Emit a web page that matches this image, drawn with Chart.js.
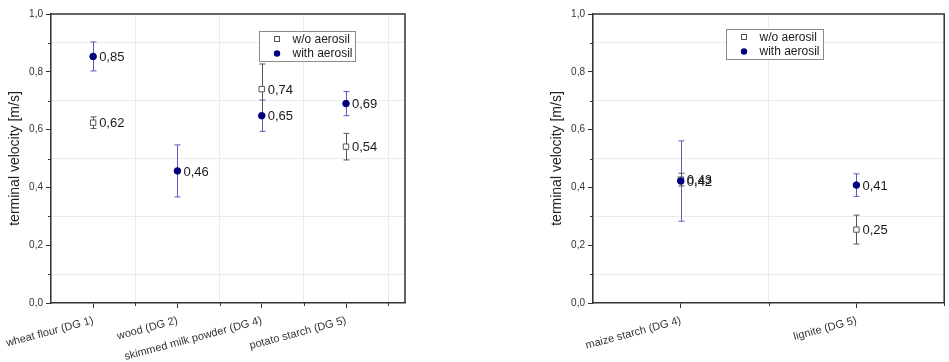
<!DOCTYPE html>
<html lang="en">
  <head>
    <meta charset="utf-8" />
    <title>terminal velocity</title>
    <style>
      * {
        margin: 0;
        padding: 0;
      }
      body {
        width: 949px;
        height: 362px;
        background: white;
        position: relative;
        overflow: hidden;
      }
      canvas {
        position: absolute;
        top: 0;
      }
      #leftChart {
        left: 0;
      }
      #rightChart {
        left: 542px;
      }
    </style>
  </head>
  <body>
    <canvas id="leftChart" width="470" height="362"></canvas>
    <canvas id="rightChart" width="407" height="362"></canvas>

    <script src="https://cdn.jsdelivr.net/npm/chart.js@4.4.1/dist/chart.umd.min.js"></script>

    <script>
      // data
      const leftCategories = ["wheat flour (DG 1)", "wood (DG 2)", "skimmed milk powder (DG 4)", "potato starch (DG 5)"];
      const leftWithout = [0.624, null, 0.74, 0.541];
      const leftWithoutErr = [0.02, null, 0.087, 0.046];
      const leftWith = [0.853, 0.457, 0.648, 0.69];
      const leftWithErr = [0.05, 0.09, 0.054, 0.042];

      const rightCategories = ["maize starch (DG 4)", "lignite (DG 5)"];
      const rightWithout = [0.427, 0.254];
      const rightWithoutErr = [0.022, 0.05];
      const rightWith = [0.422, 0.408];
      const rightWithErr = [0.139, 0.039];

      const seriesNames = ["w/o aerosil", "with aerosil"];
      const yTitle = "terminal velocity [m/s]";

      const FONT = "'Liberation Sans', Arial, sans-serif";
      const navy = "#00007f";
      const errBlue = "#5a5abd";
      const errGrey = "#555555";

      const fmt = (v) => v.toFixed(2).replace(".", ",");
      const isInt = (v) => Math.abs(v - Math.round(v)) < 1e-6;

      // error bars, labels, frame, minor ticks, legend
      const decor = {
        id: "decor",
        beforeDatasetsDraw(chart) {
          const { ctx, scales: { x, y } } = chart;
          ctx.save();
          ctx.lineWidth = 1;
          chart.data.datasets.forEach((ds) => {
            ctx.strokeStyle = ds.errColor;
            ds.data.forEach((p, i) => {
              if (p.y == null) return;
              const e = ds.errors[i];
              const px = Math.round(x.getPixelForValue(p.x)) + 0.5;
              const top = y.getPixelForValue(p.y + e);
              const bot = y.getPixelForValue(p.y - e);
              ctx.beginPath();
              ctx.moveTo(px, top);
              ctx.lineTo(px, bot);
              ctx.moveTo(px - 3, top);
              ctx.lineTo(px + 3, top);
              ctx.moveTo(px - 3, bot);
              ctx.lineTo(px + 3, bot);
              ctx.stroke();
            });
          });
          ctx.restore();
        },
        afterDatasetsDraw(chart) {
          const { ctx, scales: { x, y } } = chart;
          ctx.save();
          ctx.font = "13px " + FONT;
          ctx.fillStyle = "#1a1a1a";
          ctx.textAlign = "left";
          ctx.textBaseline = "middle";
          chart.data.datasets.forEach((ds) => {
            ds.data.forEach((p) => {
              if (p.y == null) return;
              ctx.fillText(fmt(p.y), x.getPixelForValue(p.x) + 6, y.getPixelForValue(p.y) + 1);
            });
          });
          ctx.restore();
        },
        afterDraw(chart, args, opts) {
          const { ctx, chartArea: { left, right, top, bottom }, scales: { x, y } } = chart;
          ctx.save();

          // frame top / right
          ctx.strokeStyle = "#333";
          ctx.lineWidth = 1.5;
          ctx.beginPath();
          ctx.moveTo(left, top);
          ctx.lineTo(right, top);
          ctx.lineTo(right, bottom);
          ctx.stroke();

          // minor ticks
          ctx.lineWidth = 1;
          ctx.beginPath();
          y.ticks.forEach((t) => {
            if (Math.round(t.value * 10) % 2 === 1) {
              const py = Math.round(y.getPixelForValue(t.value)) + 0.5;
              ctx.moveTo(left - 3, py);
              ctx.lineTo(left, py);
            }
          });
          x.ticks.forEach((t) => {
            if (!isInt(t.value) && t.value > x.min) {
              const px = Math.round(x.getPixelForValue(t.value)) + 0.5;
              ctx.moveTo(px, bottom);
              ctx.lineTo(px, bottom + 3);
            }
          });
          ctx.stroke();

          // legend
          const bx = left + opts.legendX;
          const by = top + opts.legendY;
          ctx.fillStyle = "white";
          ctx.fillRect(bx, by, opts.legendW, 30);
          ctx.strokeStyle = "#8a8a8a";
          ctx.lineWidth = 1;
          ctx.strokeRect(bx + 0.5, by + 0.5, opts.legendW, 30);

          ctx.fillStyle = "white";
          ctx.strokeStyle = errGrey;
          ctx.fillRect(bx + 15, by + 5, 5, 5);
          ctx.strokeRect(bx + 15.5, by + 5.5, 5, 5);
          ctx.fillStyle = navy;
          ctx.beginPath();
          ctx.arc(bx + 18, by + 22.5, 3.2, 0, Math.PI * 2);
          ctx.fill();

          ctx.font = "12px " + FONT;
          ctx.fillStyle = "#1a1a1a";
          ctx.textAlign = "left";
          ctx.textBaseline = "middle";
          ctx.fillText(seriesNames[0], bx + 33.5, by + 8.5);
          ctx.fillText(seriesNames[1], bx + 33.5, by + 23);
          ctx.restore();
        },
      };

      function makeChart(id, categories, without, withoutErr, withV, withErr, xMax, legend) {
        const toPoints = (arr) => arr.map((v, i) => ({ x: i, y: v }));
        const config = {
          type: "scatter",
          data: {
            datasets: [
              {
                label: seriesNames[1],
                data: toPoints(withV),
                errors: withErr,
                errColor: errBlue,
                pointStyle: "circle",
                pointRadius: 3.3,
                pointHoverRadius: 3.3,
                backgroundColor: navy,
                borderColor: navy,
                borderWidth: 1,
              },
              {
                label: seriesNames[0],
                data: toPoints(without),
                errors: withoutErr,
                errColor: errGrey,
                pointStyle: "rect",
                pointRadius: 3.8,
                pointHoverRadius: 3.8,
                backgroundColor: "white",
                borderColor: errGrey,
                borderWidth: 1,
              },
            ],
          },
          options: {
            responsive: false,
            animation: false,
            events: [],
            layout: { padding: { top: 14, left: 0, right: id === "leftChart" ? 65 : 2, bottom: 0 } },
            plugins: {
              legend: { display: false },
              tooltip: { enabled: false },
              decor: legend,
            },
            scales: {
              x: {
                type: "linear",
                min: -0.5,
                max: xMax,
                afterFit(s) {
                  s.height = 59;
                  s.paddingLeft = 0;
                  s.paddingRight = 0;
                },
                border: { color: "#333", width: 1.5 },
                grid: {
                  color: (c) => (c.tick && !isInt(c.tick.value) ? "#ebebeb" : "rgba(0,0,0,0)"),
                  tickColor: (c) => (c.tick && isInt(c.tick.value) ? "#333" : "rgba(0,0,0,0)"),
                  tickLength: 5,
                  lineWidth: 1,
                },
                ticks: {
                  stepSize: 0.5,
                  includeBounds: false,
                  autoSkip: false,
                  minRotation: 15,
                  maxRotation: 15,
                  padding: 6,
                  color: "#333",
                  font: { family: FONT, size: 11 },
                  callback: (v) => (isInt(v) ? categories[Math.round(v)] || "" : ""),
                },
              },
              y: {
                min: 0,
                max: 1,
                afterFit(s) {
                  s.width = 51;
                  s.paddingTop = 0;
                  s.paddingBottom = 0;
                },
                border: { color: "#333", width: 1.5 },
                grid: {
                  color: (c) => (c.tick && Math.round(c.tick.value * 10) % 2 === 1 ? "#ebebeb" : "rgba(0,0,0,0)"),
                  tickColor: (c) => (c.tick && Math.round(c.tick.value * 10) % 2 === 0 ? "#333" : "rgba(0,0,0,0)"),
                  tickLength: 5,
                  lineWidth: 1,
                },
                ticks: {
                  stepSize: 0.1,
                  padding: 3,
                  color: "#333",
                  font: { family: FONT, size: 10 },
                  callback: (v) => {
                    const t = Math.round(v * 10);
                    return t % 2 === 0 ? (t / 10).toFixed(1).replace(".", ",") : "";
                  },
                },
                title: {
                  display: true,
                  text: yTitle,
                  color: "#222",
                  padding: { top: 7, bottom: 0 },
                  font: { family: FONT, size: 14 },
                },
              },
            },
          },
          plugins: [decor],
        };
        return new Chart(document.getElementById(id), config);
      }

      makeChart("leftChart", leftCategories, leftWithout, leftWithoutErr, leftWith, leftWithErr, 3.7,
        { legendX: 208, legendY: 17, legendW: 96 });
      makeChart("rightChart", rightCategories, rightWithout, rightWithoutErr, rightWith, rightWithErr, 1.5,
        { legendX: 133, legendY: 15, legendW: 97 });
    </script>
  </body>
</html>
